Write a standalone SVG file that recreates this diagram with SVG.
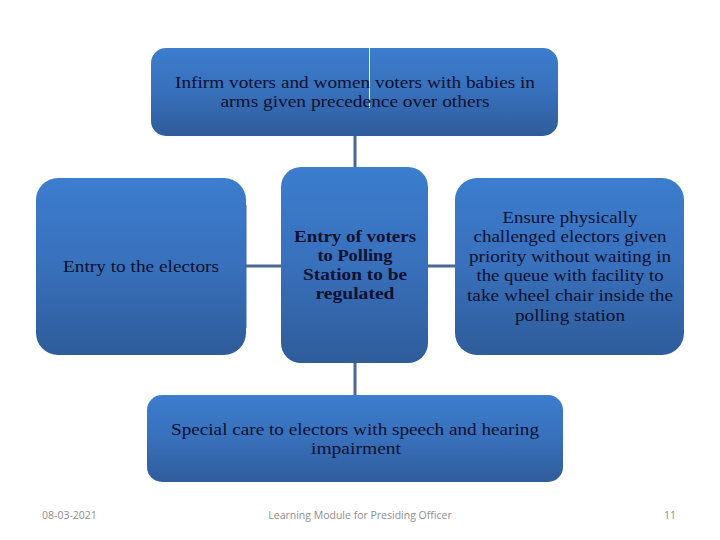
<svg xmlns="http://www.w3.org/2000/svg" width="720" height="540" viewBox="0 0 720 540">
<defs>
<linearGradient id="g" x1="0" y1="0" x2="0" y2="1">
<stop offset="0" stop-color="#3c7dce"/>
<stop offset="0.5" stop-color="#3870bb"/>
<stop offset="1" stop-color="#2f5c9a"/>
</linearGradient>
</defs>
<style>
.box{fill:url(#g);}
.t{font-family:"Liberation Serif","DejaVu Serif",serif;font-size:17px;fill:#0e1030;text-anchor:middle;}
.b{font-weight:bold;}
.c{stroke:#4a6890;stroke-width:3;fill:none;}
.f{font-family:"Open Sans","Liberation Sans",sans-serif;font-size:10.5px;fill:#8c8c8c;}
</style>
<rect width="720" height="540" fill="#ffffff"/>
<g id="connectors">
<line class="c" x1="355" y1="136" x2="355" y2="168"/>
<line class="c" x1="246" y1="266" x2="282" y2="266"/>
<line class="c" x1="427" y1="266" x2="456" y2="266"/>
<line class="c" x1="355" y1="362" x2="355" y2="396"/>
</g>
<g id="top">
<rect class="box" x="151" y="48" width="407" height="88" rx="15"/>
<line x1="369.5" y1="48" x2="369.5" y2="108" stroke="#e8eef8" stroke-width="1"/>
<text class="t" x="355" y="88" textLength="360" lengthAdjust="spacingAndGlyphs">Infirm voters and women voters with babies in</text>
<text class="t" x="355" y="107" textLength="269" lengthAdjust="spacingAndGlyphs">arms given precedence over others</text>
</g>
<g id="left">
<rect class="box" x="36" y="178" width="210" height="177" rx="22"/>
<line x1="246" y1="205" x2="246" y2="328" stroke="#3a6aa8" stroke-width="1"/>
<text class="t" x="141" y="272" textLength="156" lengthAdjust="spacingAndGlyphs">Entry to the electors</text>
</g>
<g id="middle">
<rect class="box" x="281" y="167" width="147" height="196" rx="20"/>
<text class="t b" x="355" y="242" textLength="122" lengthAdjust="spacingAndGlyphs">Entry of voters</text>
<text class="t b" x="355" y="261" textLength="75" lengthAdjust="spacingAndGlyphs">to Polling</text>
<text class="t b" x="355" y="280" textLength="104" lengthAdjust="spacingAndGlyphs">Station to be</text>
<text class="t b" x="355" y="299" textLength="79" lengthAdjust="spacingAndGlyphs">regulated</text>
</g>
<g id="right">
<rect class="box" x="455" y="178" width="229" height="177" rx="22"/>
<text class="t" x="570" y="223" textLength="135" lengthAdjust="spacingAndGlyphs">Ensure physically</text>
<text class="t" x="570" y="242" textLength="193" lengthAdjust="spacingAndGlyphs">challenged electors given</text>
<text class="t" x="570" y="262" textLength="202" lengthAdjust="spacingAndGlyphs">priority without waiting in</text>
<text class="t" x="570" y="281" textLength="187" lengthAdjust="spacingAndGlyphs">the queue with facility to</text>
<text class="t" x="570" y="301" textLength="206" lengthAdjust="spacingAndGlyphs">take wheel chair inside the</text>
<text class="t" x="570" y="321" textLength="110" lengthAdjust="spacingAndGlyphs">polling station</text>
</g>
<g id="bottom">
<rect class="box" x="147" y="395" width="416" height="87" rx="15"/>
<text class="t" x="355" y="435" textLength="368" lengthAdjust="spacingAndGlyphs">Special care to electors with speech and hearing</text>
<text class="t" x="356" y="454" textLength="90" lengthAdjust="spacingAndGlyphs">impairment</text>
</g>
<g id="footer">
<text class="f" x="42" y="519">08-03-2021</text>
<text class="f" x="360" y="519" text-anchor="middle">Learning Module for Presiding Officer</text>
<text class="f" x="676" y="519" text-anchor="end">11</text>
</g>
</svg>
